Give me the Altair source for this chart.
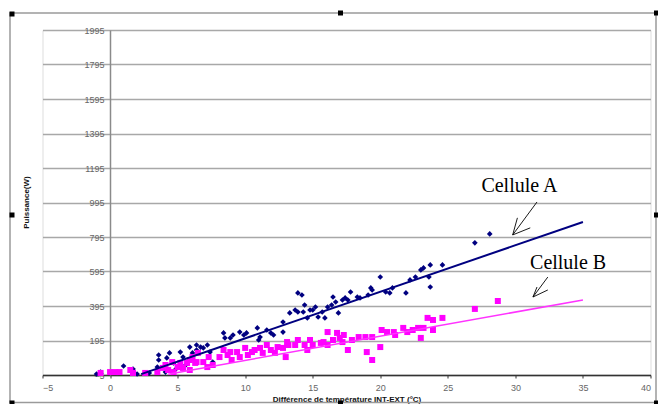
import altair as alt
import pandas as pd

# ---- Cellule A (navy diamonds) ----
a_x = [-1.0, -0.7, 1.0, 1.7, 2.0, 2.9, 3.5, 3.6, 3.6, 4.1, 4.2, 4.4, 4.7, 4.8, 5.2, 5.4, 5.6,
       5.9, 6.1, 6.4, 6.1, 6.4, 6.7, 6.9, 7.2, 7.4, 7.6, 8.4, 8.5, 8.9, 9.1, 9.6, 9.9, 10.1,
       10.9, 11.0, 11.1, 11.6, 11.9, 12.1, 12.8, 12.8, 13.3, 13.9, 13.7, 13.9, 14.2, 14.4,
       14.3, 14.6, 14.8, 15.0, 15.2, 15.4, 15.7, 15.9, 16.1, 16.4, 16.5, 16.7, 16.9, 17.2,
       17.4, 17.6, 17.8, 18.3, 18.5, 19.1, 19.3, 19.4, 20.0, 20.4, 20.7, 20.9, 21.9, 22.2,
       22.6, 23.0, 23.2, 23.6, 23.7, 23.7, 24.6, 27.0, 28.1]
a_y = [1, 12, 47, 30, 1, 7, 41, 82, 111, 12, 94, 123, 65, 24, 128, 99, 53,
       157, 123, 169, 94, 140, 157, 152, 169, 128, 70, 239, 210, 210, 227, 244, 227, 239,
       268, 198, 215, 256, 239, 227, 302, 244, 355, 360, 372, 471, 459, 401,
       360, 326, 372, 372, 389, 331, 360, 326, 389, 401, 447, 418, 355, 430,
       442, 430, 476, 447, 442, 459, 500, 488, 563, 476, 471, 500, 471, 546,
       563, 604, 616, 563, 505, 633, 633, 761, 813]

# ---- Cellule B (magenta squares) ----
b_x = [-0.7, 0.0, 0.4, 0.7, 1.5, 1.7, 2.6, 3.5, 3.9, 4.1, 4.3, 4.6, 4.7, 5.0, 5.2, 5.4,
       5.7, 5.9, 5.9, 6.1, 6.4, 6.5, 6.3, 6.9, 7.2, 7.3, 7.6, 8.1, 8.4, 8.7, 8.9, 9.0, 9.4,
       9.6, 10.0, 10.2, 10.5, 10.7, 11.1, 11.3, 11.6, 11.9, 12.2, 12.4, 12.8, 13.1, 13.2,
       13.7, 13.9, 13.0, 14.4, 14.6, 14.8, 15.0, 15.6, 15.8, 16.1, 16.1, 16.5, 16.8, 17.0,
       17.2, 17.3, 17.6, 17.9, 18.4, 18.9, 19.0, 19.4, 19.4, 20.0, 20.1, 20.5, 21.0, 21.1,
       21.7, 22.0, 22.4, 22.8, 23.0, 23.2, 23.5, 23.9, 23.9, 24.6, 27.0, 28.7]
b_y = [7, 12, 12, 12, 24, 7, 7, 12, 36, 53, 24, 70, 12, 41, 65, 36,
       65, 24, 82, 99, 70, 123, 65, 70, 41, 99, 53, 99, 140, 111, 128, 82, 128,
       99, 152, 111, 128, 140, 152, 123, 169, 140, 123, 157, 152, 186, 169,
       169, 198, 99, 169, 140, 198, 169, 181, 186, 244, 169, 198, 239, 210,
       186, 227, 140, 198, 215, 215, 128, 215, 82, 157, 256, 244, 244, 227,
       268, 244, 256, 268, 210, 268, 326, 256, 314, 326, 378, 424]

# ---- trend lines (end points) ----
trend_a_x = [2.3, 35]
trend_a_y = [0, 882]
trend_b_x = [4.3, 35]
trend_b_y = [0, 430]

# ---- axes ----
x_ticks = [-5, 0, 5, 10, 15, 20, 25, 30, 35, 40]
y_ticks = [-5, 195, 395, 595, 795, 995, 1195, 1395, 1595, 1795, 1995]

# ---- annotations ----
note_text = ["Cellule A", "Cellule B"]
note_x = [30.3, 33.9]
note_y = [1091, 645]
arrow_start_x = [31.6, 32.4]
arrow_start_y = [998, 563]
arrow_tip_x = [29.8, 31.3]
arrow_tip_y = [807, 447]
wing1_x = [30.15, 31.6]
wing1_y = [906, 505]
wing2_x = [31.1, 32.4]
wing2_y = [848, 488]

df_a = pd.DataFrame({"x": a_x, "y": a_y})
df_b = pd.DataFrame({"x": b_x, "y": b_y})
df_ta = pd.DataFrame({"x": trend_a_x, "y": trend_a_y})
df_tb = pd.DataFrame({"x": trend_b_x, "y": trend_b_y})
df_notes = pd.DataFrame({"x": note_x, "y": note_y, "t": note_text})
segs = []
for i in range(2):
    segs.append((arrow_start_x[i], arrow_start_y[i], arrow_tip_x[i], arrow_tip_y[i]))
    segs.append((arrow_tip_x[i], arrow_tip_y[i], wing1_x[i], wing1_y[i]))
    segs.append((arrow_tip_x[i], arrow_tip_y[i], wing2_x[i], wing2_y[i]))
df_segs = pd.DataFrame(segs, columns=["x", "y", "x2", "y2"])

FONT = "Liberation Sans Narrow, Liberation Sans, Arial"

xs = alt.Scale(domain=[-5, 40], nice=False, zero=False)
ys = alt.Scale(domain=[-5, 1995], nice=False, zero=False)

X = alt.X("x:Q", scale=xs, axis=alt.Axis(
    values=x_ticks, title="Différence de température INT-EXT (°C)", grid=False,
    domainColor="#333333", domainWidth=1.5, tickColor="#333333", tickSize=3,
    labelColor="#666666", labelFontSize=9, labelFont=FONT, labelPadding=5,
    titleFont=FONT, titleFontSize=8, titleFontWeight="bold", titleColor="#111111",
    titlePadding=3))
Y = alt.Y("y:Q", scale=ys, axis=alt.Axis(
    values=y_ticks, format="d", title="Puissance(W)", grid=True, gridColor="#a8a8a8",
    gridWidth=1.5, offset=-67.5, domainColor="#8a8a8a", domainWidth=1.5, ticks=False,
    labelColor="#666666", labelFontSize=9, labelFont=FONT, labelPadding=6,
    titleFont=FONT, titleFontSize=8, titleFontWeight="bold", titleColor="#111111",
    titleX=-80, titleY=172, titleAngle=270))

pts_a = alt.Chart(df_a).mark_point(shape="diamond", filled=True, size=32,
                                   color="#000080", opacity=1).encode(x=X, y=Y)
pts_b = alt.Chart(df_b).mark_square(size=36, color="#ff00ff", opacity=1).encode(x=X, y=Y)
line_a = alt.Chart(df_ta).mark_line(color="#000080", strokeWidth=2).encode(x=X, y=Y)
line_b = alt.Chart(df_tb).mark_line(color="#ff33ff", strokeWidth=1.5).encode(x=X, y=Y)
notes = alt.Chart(df_notes).mark_text(font="Liberation Serif", fontSize=20, color="#000000",
                                      align="center", baseline="middle").encode(
    x=X, y=Y, text="t:N")
arrows = alt.Chart(df_segs).mark_rule(color="#000000", strokeWidth=0.9).encode(
    x=X, y=Y, x2="x2:Q", y2="y2:Q")

frame = alt.Chart(pd.DataFrame({"k": [0]})).mark_rect(
    fillOpacity=0, stroke="#9a9a9a", strokeWidth=1.5, clip=False).encode(
    x=alt.value(-32.5), x2=alt.value(613.5), y=alt.value(-17), y2=alt.value(372.5))

handle_px = [-30.5, 298, 614, -30.5, 614, -30.5, 298, 614]
handle_py = [-16, -17, -17, 185, 185, 373, 373, 373]
handles = alt.Chart(pd.DataFrame({"px": handle_px, "py": handle_py})).mark_square(
    size=25, color="#000000", opacity=1, clip=False).encode(
    x=alt.X("px:Q", scale=None), y=alt.Y("py:Q", scale=None))

chart = alt.layer(frame, pts_a, pts_b, line_a, line_b, arrows, notes, handles).properties(
    width=608, height=345,
    autosize=alt.AutoSizeParams(type="none"),
    padding={"left": 34.5, "top": 22, "right": 7, "bottom": 29},
).configure_view(stroke=None).configure(background="white")

chart.save("out.html", embed_options={"renderer": "svg", "actions": False})
